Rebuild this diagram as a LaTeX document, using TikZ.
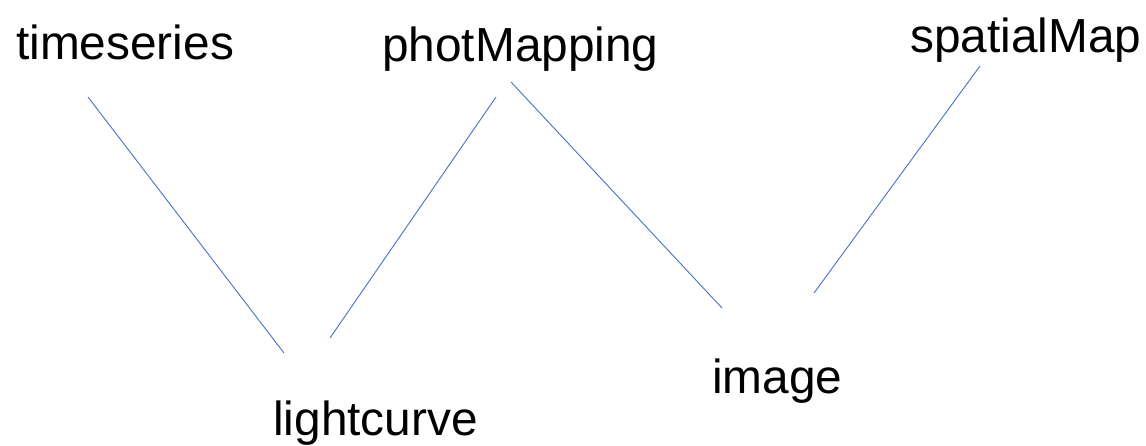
\documentclass[tikz,border=0pt]{standalone}
\usepackage{fontspec}
\setmainfont{Liberation Sans}
\definecolor{linkblue}{RGB}{68,114,196}
\begin{document}
\begin{tikzpicture}[x=1pt,y=-1pt,
  lbl/.style={inner sep=0pt,anchor=base west,font=\fontsize{47.8}{56}\selectfont},
  link/.style={draw=linkblue,line width=0.9pt}]
\useasboundingbox (0,0) rectangle (1146,445);
\node[lbl] (ts) at (16,59) {timeseries};
\node[lbl] (pm) at (382,61) {photMapping};
\node[lbl] (sm) at (910,52) {spatialMap};
\node[lbl] (im) at (712,393) {image};
\node[lbl] (lc) at (273,435) {lightcurve};
\coordinate (ts1) at (88,97);
\coordinate (lc1) at (284,353);
\coordinate (lc2) at (330,338);
\coordinate (pm1) at (496,97);
\coordinate (pm2) at (511,82);
\coordinate (im1) at (722,308);
\coordinate (im2) at (814,293);
\coordinate (sm1) at (980,66);
\draw[link] (ts1) -- (lc1);
\draw[link] (lc2) -- (pm1);
\draw[link] (pm2) -- (im1);
\draw[link] (im2) -- (sm1);
\end{tikzpicture}
\end{document}
